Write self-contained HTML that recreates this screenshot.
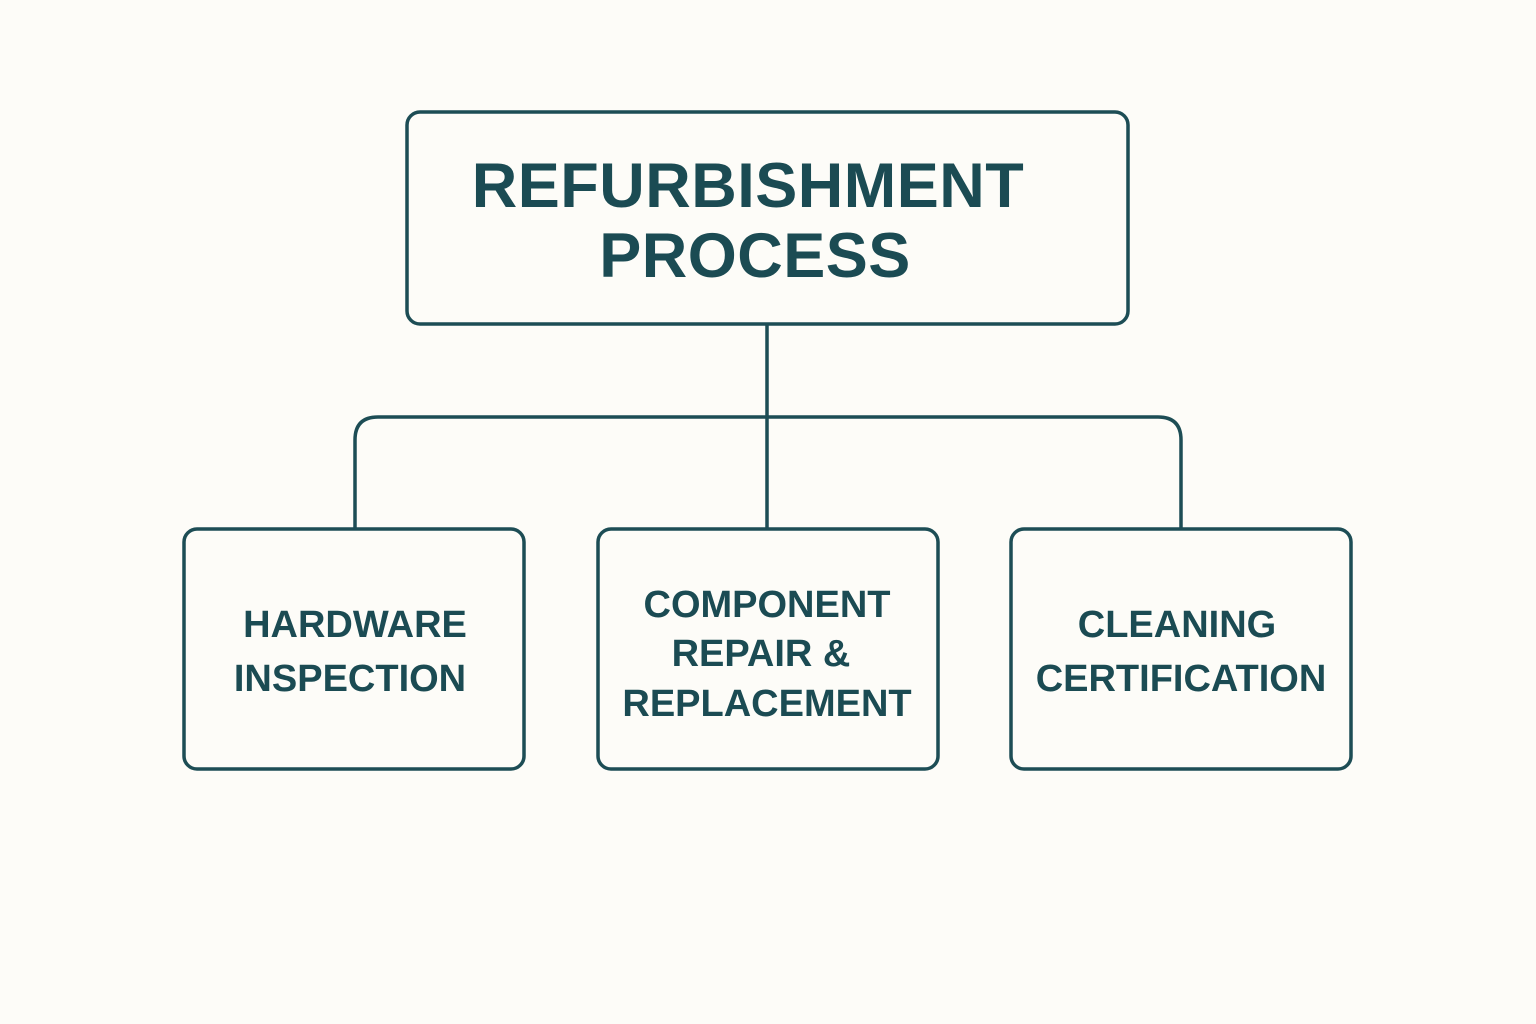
<!DOCTYPE html>
<html><head><style>
html,body{margin:0;padding:0;background:#fdfcf8;}
svg{display:block;}
text{font-family:"Liberation Sans",sans-serif;font-weight:bold;fill:#1b4b53;text-anchor:middle;}
</style></head><body>
<svg width="1536" height="1024" viewBox="0 0 1536 1024">
<rect width="1536" height="1024" fill="#fdfcf8"/>
<g fill="none" stroke="#1d4d55" stroke-width="3.5">
<rect x="407" y="112" width="721" height="212" rx="13"/>
<line x1="767" y1="324" x2="767" y2="528"/>
<path d="M355 528 V440 Q355 417 378 417 H1158 Q1181 417 1181 440 V528"/>
<rect x="184" y="529" width="340" height="240" rx="13"/>
<rect x="598" y="529" width="340" height="240" rx="13"/>
<rect x="1011" y="529" width="340" height="240" rx="13"/>
</g>
<text x="748" y="207" font-size="63" letter-spacing="0.5">REFURBISHMENT</text>
<text x="755" y="277" font-size="63" letter-spacing="0.5">PROCESS</text>
<text x="355" y="637" font-size="38">HARDWARE</text>
<text x="350" y="691" font-size="38">INSPECTION</text>
<text x="767" y="617" font-size="38">COMPONENT</text>
<text x="761" y="666" font-size="38">REPAIR &amp;</text>
<text x="767" y="716" font-size="38">REPLACEMENT</text>
<text x="1177" y="637" font-size="38">CLEANING</text>
<text x="1181" y="691" font-size="38">CERTIFICATION</text>
</svg>
</body></html>
